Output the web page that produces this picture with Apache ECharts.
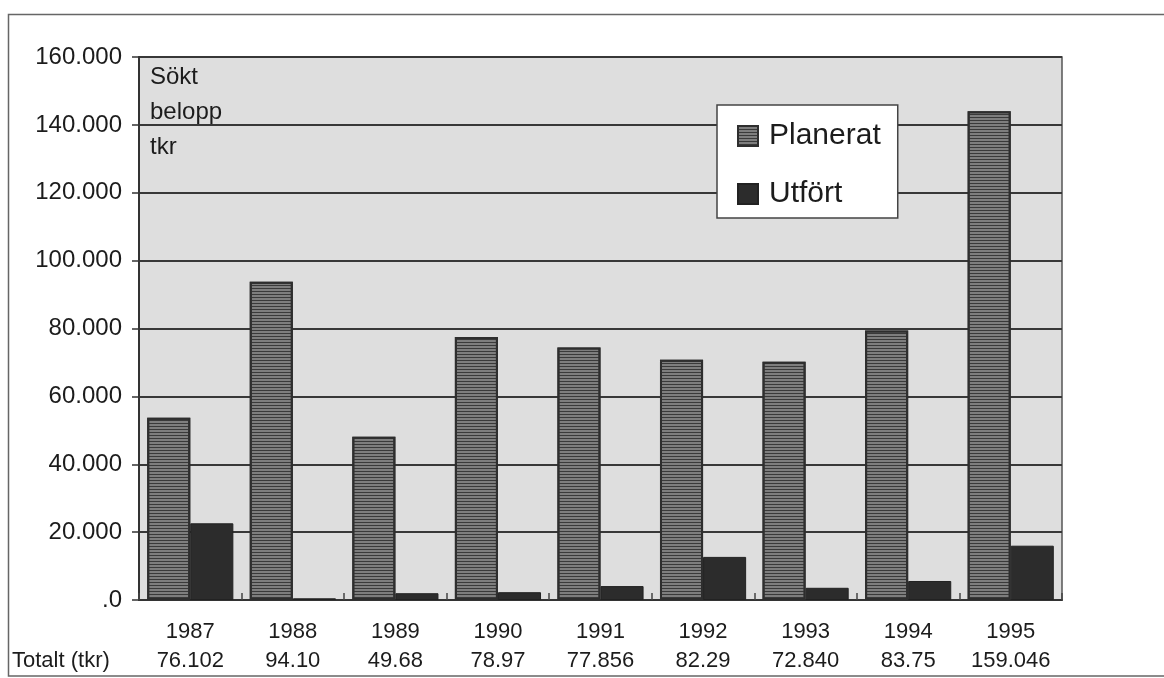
<!DOCTYPE html>
<html>
<head>
<meta charset="utf-8">
<script src="https://cdn.jsdelivr.net/npm/echarts@6/dist/echarts.min.js"></script>
<style>
  html, body { margin: 0; padding: 0; background: #ffffff; }
  #chart { width: 1164px; height: 678px; }
</style>
</head>
<body>
<div id="chart"></div>
<script>
// ---- data (tkr) ----
const years = ['1987', '1988', '1989', '1990', '1991', '1992', '1993', '1994', '1995'];
const totals = ['76.102', '94.10', '49.68', '78.97', '77.856', '82.29', '72.840', '83.75', '159.046'];
const planerat = [53700, 93800, 48100, 77500, 74400, 70800, 70200, 79400, 144000];
const utfort = [22600, 500, 2000, 2300, 4100, 12700, 3600, 5600, 16000];
const yTicks = { min: 0, max: 160000, interval: 20000 };
const seriesNames = ['Planerat', 'Utfört'];

const FONT = 'Arial, "Liberation Sans", sans-serif';
const TXT = '#1c1c1c';
const chart = echarts.init(document.getElementById('chart'), null, { renderer: 'canvas' });

function fmtY(v) {
  if (v === 0) return '.0';
  return (v / 1000).toFixed(3);
}

chart.setOption({
  backgroundColor: '#ffffff',
  animation: false,
  grid: {
    left: 139, right: 102, top: 57, bottom: 78,
    show: true,
    backgroundColor: '#dedede',
    borderColor: '#555',
    borderWidth: 1.5
  },
  legend: {
    data: seriesNames,
    orient: 'vertical',
    left: 717, top: 105,
    padding: [16, 17, 9, 20],
    itemWidth: 20, itemHeight: 20,
    itemGap: 28,
    backgroundColor: '#ffffff',
    borderColor: '#444',
    borderWidth: 1.5,
    icon: 'rect',
    textStyle: { fontFamily: FONT, fontSize: 30, lineHeight: 30, color: TXT, padding: [0, 0, 0, 6] }
  },
  xAxis: {
    type: 'category',
    data: years,
    axisLine: { show: true, lineStyle: { color: '#333', width: 2 } },
    axisTick: { show: true, inside: true, length: 7, interval: 0, lineStyle: { color: '#444', width: 1.5 } },
    axisLabel: {
      interval: 0,
      hideOverlap: false,
      margin: 17,
      formatter: function (v, i) { return v + '\n' + totals[i]; },
      fontFamily: FONT, fontSize: 22, lineHeight: 29, color: TXT
    },
    splitLine: { show: false }
  },
  yAxis: {
    type: 'value',
    min: yTicks.min, max: yTicks.max, interval: yTicks.interval,
    axisLine: { show: true, lineStyle: { color: '#333', width: 2 } },
    axisTick: { show: true, inside: false, length: 7, lineStyle: { color: '#333', width: 1.5 } },
    axisLabel: {
      margin: 17,
      formatter: fmtY,
      fontFamily: FONT, fontSize: 24, color: TXT
    },
    splitLine: { show: true, lineStyle: { color: '#383838', width: 2 } }
  },
  series: [
    {
      name: seriesNames[0],
      type: 'bar',
      data: planerat,
      barGap: '0%',
      barCategoryGap: '16%',
      itemStyle: {
        color: '#7e7e7e',
        borderColor: '#2e2e2e',
        borderWidth: 2,
        decal: {
          symbol: 'rect',
          symbolSize: 1,
          dashArrayX: [1, 0],
          dashArrayY: [1, 2],
          color: '#3a3a3a'
        }
      }
    },
    {
      name: seriesNames[1],
      type: 'bar',
      data: utfort,
      barGap: '0%',
      barCategoryGap: '16%',
      itemStyle: { color: '#2c2c2c', borderColor: '#222', borderWidth: 1 }
    }
  ],
  graphic: [
    {
      type: 'rect',
      silent: true,
      shape: { x: 8.5, y: 14.5, width: 1200, height: 661.5 },
      style: { fill: 'none', stroke: '#666', lineWidth: 1.5 },
      z: 100
    },
    {
      type: 'text',
      left: 150, top: 60,
      silent: true,
      style: {
        text: 'Sökt\nbelopp\ntkr',
        font: '24px ' + FONT,
        lineHeight: 35,
        fill: TXT
      },
      z: 100
    },
    {
      type: 'text',
      left: 12, top: 650,
      silent: true,
      style: {
        text: 'Totalt (tkr)',
        font: '22px ' + FONT,
        fill: TXT
      },
      z: 100
    }
  ]
});
</script>
</body>
</html>
